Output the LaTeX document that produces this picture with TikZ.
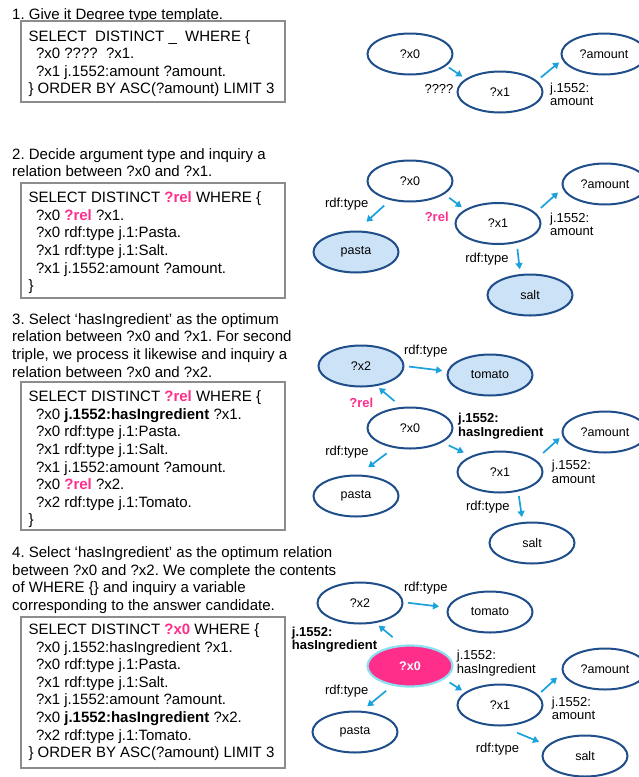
\documentclass[tikz,border=0pt]{standalone}
\usepackage{fontspec}
\setmainfont{Liberation Sans}
\usetikzlibrary{arrows.meta,shapes.geometric}
\frenchspacing

\definecolor{nodeblue}{HTML}{1F4E8A}
\definecolor{arrowblue}{HTML}{1BA1DC}
\definecolor{typefill}{HTML}{CCE2F7}
\definecolor{relpink}{HTML}{FF2E8B}
\definecolor{ringcyan}{HTML}{8BE0F2}
\definecolor{boxgray}{HTML}{8C8C8C}

\newcommand{\relvar}[1]{\textcolor{relpink}{\textbf{#1}}}

\begin{document}
\begin{tikzpicture}[x=1pt, y=-1pt,
  every node/.style={font=\fontsize{13}{13.5}\selectfont},
  steptext/.style={anchor=north west, inner sep=0pt, align=left, font=\fontsize{15}{17.6}\selectfont},
  querybox/.style={draw=boxgray, line width=1.2pt},
  rdfnode/.style={ellipse, draw=nodeblue, line width=2pt, minimum width=85pt, minimum height=41pt,
    inner sep=0pt, font=\fontsize{12.5}{14}\selectfont},
  typed/.style={rdfnode, fill=typefill},
  answer/.style={rdfnode, fill=relpink, draw=ringcyan, line width=2.2pt, text=white,
    font=\fontsize{12.5}{14}\selectfont\bfseries},
  link/.style={arrowblue, line width=1.7pt, -{Triangle[length=6pt,width=7pt]}},
  lbl/.style={inner sep=0pt},
  sidelbl/.style={lbl, anchor=west, align=left}]
  \useasboundingbox (0,0) rectangle (638,777);

  % step 1
  \node[steptext] (title-1) at (12,8.3) {1. Give it Degree type template.};
  \draw[querybox] (21,21) rectangle (285,102);
  \node[steptext] (query-1) at (28.3,30) {SELECT\ \ DISTINCT \_\ \ WHERE \{\\
    \hspace*{7.5pt}?x0 ????\ \ ?x1.\\
    \hspace*{7.5pt}?x1 j.1552:amount ?amount.\\
    \} ORDER BY ASC(?amount) LIMIT 3};
  \node[rdfnode] (g1-x0) at (410,54) {?x0};
  \node[rdfnode] (g1-x1) at (500,92) {?x1};
  \node[rdfnode] (g1-amount) at (604,54) {?amount};
  \draw[link, shorten <=3pt, shorten >=4pt] (g1-x0.-18) -- (g1-x1.159);
  \draw[link, shorten <=5pt, shorten >=4pt] (g1-x1.17) -- (g1-amount.188);
  \node[lbl] (g1-rel) at (439,88.7) {????};
  \node[sidelbl] (g1-amt) at (550,94.5) {j.1552:\\amount};

  % step 2
  \node[steptext] (title-2) at (12,148) {2. Decide argument type and inquiry a\\
    relation between ?x0 and ?x1.};
  \draw[querybox] (21,183) rectangle (285,298);
  \node[steptext] (query-2) at (28.3,191.7) {SELECT DISTINCT \relvar{?rel} WHERE \{\\
    \hspace*{7.5pt}?x0 \relvar{?rel} ?x1.\\
    \hspace*{7.5pt}?x0 rdf:type j.1:Pasta.\\
    \hspace*{7.5pt}?x1 rdf:type j.1:Salt.\\
    \hspace*{7.5pt}?x1 j.1552:amount ?amount.\\
    \}};
  \node[rdfnode] (g2-x0) at (410,181) {?x0};
  \node[rdfnode] (g2-x1) at (498,223.5) {?x1};
  \node[rdfnode] (g2-amount) at (605,184) {?amount};
  \node[typed] (g2-pasta) at (356,252) {pasta};
  \node[typed] (g2-salt) at (530,295) {salt};
  \draw[link, shorten <=8pt, shorten >=13pt] (g2-x0.-136) -- (g2-pasta.88);
  \draw[link, shorten <=6pt, shorten >=4pt] (g2-x0.-21) -- (g2-x1.157);
  \draw[link, shorten <=7pt, shorten >=6pt] (g2-x1.16) -- (g2-amount.186);
  \draw[link, shorten <=6pt, shorten >=5pt] (g2-x1.-46) -- (g2-salt.115);
  \node[lbl] (g2-type0) at (346.7,204) {rdf:type};
  \node[lbl, text=relpink, font=\fontsize{13}{13.5}\selectfont\bfseries] (g2-rel) at (436.7,216.7) {?rel};
  \node[sidelbl] (g2-amt) at (550,224.5) {j.1552:\\amount};
  \node[lbl] (g2-type1) at (487,259) {rdf:type};

  % step 3
  \node[steptext] (title-3) at (12,313.3) {3. Select ‘hasIngredient’ as the optimum\\
    relation between ?x0 and ?x1. For second\\
    triple, we process it likewise and inquiry a\\
    relation between ?x0 and ?x2.};
  \draw[querybox] (21,382) rectangle (285,530);
  \node[steptext] (query-3) at (28.3,390.7) {SELECT DISTINCT \relvar{?rel} WHERE \{\\
    \hspace*{7.5pt}?x0 \textbf{j.1552:hasIngredient} ?x1.\\
    \hspace*{7.5pt}?x0 rdf:type j.1:Pasta.\\
    \hspace*{7.5pt}?x1 rdf:type j.1:Salt.\\
    \hspace*{7.5pt}?x1 j.1552:amount ?amount.\\
    \hspace*{7.5pt}?x0 \relvar{?rel} ?x2.\\
    \hspace*{7.5pt}?x2 rdf:type j.1:Tomato.\\
    \}};
  \node[typed] (g3-x2) at (361,366) {?x2};
  \node[typed] (g3-tomato) at (490,375) {tomato};
  \node[rdfnode] (g3-x0) at (410,428) {?x0};
  \node[rdfnode] (g3-x1) at (500,472) {?x1};
  \node[rdfnode] (g3-amount) at (605,432) {?amount};
  \node[rdfnode] (g3-pasta) at (356,496) {pasta};
  \node[rdfnode] (g3-salt) at (532,543) {salt};
  \draw[link, shorten <=4.5pt, shorten >=5pt] (g3-x2.0) -- (g3-tomato.175);
  \draw[link, shorten <=9pt, shorten >=3pt] (g3-x0.112) -- (g3-x2.-52);
  \draw[link, shorten <=7pt, shorten >=8pt] (g3-x0.-24) -- (g3-x1.151);
  \draw[link, shorten <=10pt, shorten >=3.5pt] (g3-x1.19) -- (g3-amount.185);
  \draw[link, shorten <=9pt, shorten >=12pt] (g3-x0.-129) -- (g3-pasta.83);
  \draw[link, shorten <=4.5pt, shorten >=5pt] (g3-x1.-47) -- (g3-salt.114);
  \node[lbl] (g3-type2) at (425.8,351) {rdf:type};
  \node[lbl, text=relpink, font=\fontsize{13}{13.5}\selectfont\bfseries] (g3-rel) at (361.3,403) {?rel};
  \node[sidelbl, font=\fontsize{13}{13.5}\selectfont\bfseries] (g3-has) at (458,426.4) {j.1552:\\hasIngredient};
  \node[lbl] (g3-type0) at (347,452.5) {rdf:type};
  \node[sidelbl] (g3-amt) at (551.7,472) {j.1552:\\amount};
  \node[lbl] (g3-type1) at (487.8,507.5) {rdf:type};

  % step 4
  \node[steptext] (title-4) at (12,546.7) {4. Select ‘hasIngredient’ as the optimum relation\\
    between ?x0 and ?x2. We complete the contents\\
    of WHERE \{\} and inquiry a variable\\
    corresponding to the answer candidate.};
  \draw[querybox] (21,617) rectangle (285,768);
  \node[steptext] (query-4) at (28.3,623.5) {SELECT DISTINCT \relvar{?x0} WHERE \{\\
    \hspace*{7.5pt}?x0 j.1552:hasIngredient ?x1.\\
    \hspace*{7.5pt}?x0 rdf:type j.1:Pasta.\\
    \hspace*{7.5pt}?x1 rdf:type j.1:Salt.\\
    \hspace*{7.5pt}?x1 j.1552:amount ?amount.\\
    \hspace*{7.5pt}?x0 \textbf{j.1552:hasIngredient} ?x2.\\
    \hspace*{7.5pt}?x2 rdf:type j.1:Tomato.\\
    \} ORDER BY ASC(?amount) LIMIT 3};
  \node[rdfnode] (g4-x2) at (360,603) {?x2};
  \node[rdfnode] (g4-tomato) at (490,612) {tomato};
  \node[answer] (g4-x0) at (410,666) {?x0};
  \node[rdfnode] (g4-x1) at (500,705) {?x1};
  \node[rdfnode] (g4-amount) at (605,669) {?amount};
  \node[rdfnode] (g4-pasta) at (355,732) {pasta};
  \node[rdfnode] (g4-salt) at (585,756) {salt};
  \draw[link, shorten <=4.5pt, shorten >=8.5pt] (g4-x2.1) -- (g4-tomato.174);
  \draw[link, shorten <=12pt, shorten >=4pt] (g4-x0.111) -- (g4-x2.-52);
  \draw[link, shorten <=6pt, shorten >=3.5pt] (g4-x0.-21) -- (g4-x1.160);
  \draw[link, shorten <=4pt, shorten >=7pt] (g4-x1.15) -- (g4-amount.185);
  \draw[link, shorten <=8pt, shorten >=7pt] (g4-x0.-132) -- (g4-pasta.72);
  \draw[link, shorten <=16.5pt, shorten >=9pt] (g4-x1.-85) -- (g4-salt.164);
  \node[lbl] (g4-type2) at (425.8,588.3) {rdf:type};
  \node[sidelbl, font=\fontsize{13}{13.5}\selectfont\bfseries] (g4-has2) at (291.7,639.7) {j.1552:\\hasIngredient};
  \node[sidelbl] (g4-has1) at (456.7,663) {j.1552:\\hasIngredient};
  \node[lbl] (g4-type0) at (346.7,690.8) {rdf:type};
  \node[sidelbl] (g4-amt) at (551.7,708.1) {j.1552:\\amount};
  \node[lbl] (g4-type1) at (497.5,749.2) {rdf:type};
\end{tikzpicture}
\end{document}
